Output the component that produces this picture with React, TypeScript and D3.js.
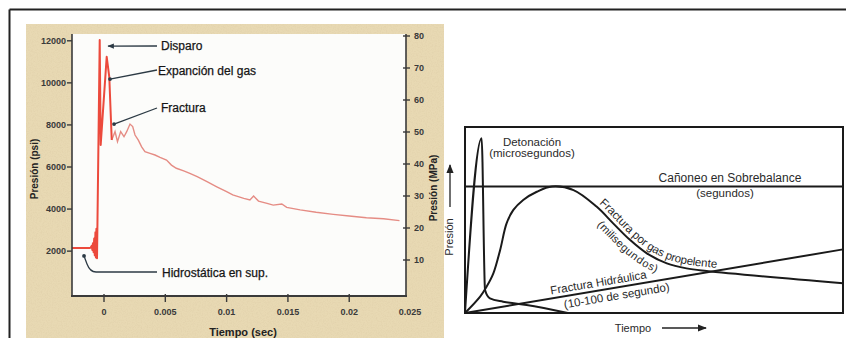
import React from "react";
import * as d3 from "d3";

const W = 846;
const H = 338;

// Panel izquierdo: registro de presión vs tiempo
const tiempoPico = [-0.00261, -0.0012, -0.0011, -0.001, -0.00095, -0.0009, -0.00085, -0.0008, -0.00075, -0.0007, -0.00066, -0.00062, -0.00057, -0.00035, -0.00027, 0.00022, 0.00043, 0.00063];
const presionPico = [2150, 2150, 2160, 2250, 2060, 2380, 1950, 2600, 1800, 2900, 1700, 3060, 1660, 12040, 7050, 11240, 10290, 7280];

const tiempoCola = [0.00063, 0.0009, 0.0011, 0.00136, 0.00163, 0.00185, 0.00212, 0.00234, 0.00253, 0.0028, 0.00307, 0.00334, 0.00375, 0.00416, 0.00457, 0.0051, 0.0055, 0.0059, 0.0065, 0.007, 0.0076, 0.0084, 0.0092, 0.01, 0.0105, 0.0114, 0.0119, 0.0122, 0.0126, 0.0133, 0.0138, 0.0145, 0.0149, 0.016, 0.0173, 0.0187, 0.02, 0.0214, 0.0228, 0.0241];
const presionCola = [7280, 7680, 7200, 7680, 7440, 7680, 8040, 7920, 7520, 7280, 6960, 6730, 6650, 6570, 6460, 6330, 6090, 5940, 5820, 5700, 5540, 5300, 5060, 4830, 4670, 4510, 4430, 4620, 4380, 4270, 4190, 4240, 4080, 3960, 3850, 3750, 3670, 3590, 3540, 3450];

const ticksPsi = [2000, 4000, 6000, 8000, 10000, 12000];
const ticksMPa = [10, 20, 30, 40, 50, 60, 70, 80];
const ticksTiempo = [0, 0.005, 0.01, 0.015, 0.02, 0.025];
const etiquetasTiempo = ["0", "0.005", "0.01", "0.015", "0.02", "0.025"];

// anotaciones: punto señalado (tiempo, psi)
const notasTexto = ["Disparo", "Expanción del gas", "Fractura", "Hidrostática en sup."];
const notasTiempo = [0.00033, 0.00049, 0.00082, -0.00163];
const notasPsi = [11750, 10180, 8040, 1770];

// Panel derecho: esquema en unidades relativas (0-100)
const detonacionX = [0, 4.4, 5.3, 6.6, 10.1, 16.3, 27.2];
const detonacionY = [0, 93.9, 12.4, 7.9, 6.1, 4.3, 0];
const gasX = [0, 4, 5.7, 7.5, 9.3, 11, 12.8, 15.4, 19, 23, 28.7, 34.8, 39.2, 43.7, 48.1, 53.4, 58.6, 63.9, 100];
const gasY = [0, 8.8, 14.1, 21.3, 33.9, 48.2, 55.4, 60.8, 65.2, 68, 66.1, 57.2, 48.2, 39.2, 32.1, 26.7, 24, 22.6, 16];
const hidraulicaX = [0, 100];
const hidraulicaY = [0, 34.2];
const sobrebalanceY = 68;

const zip = (a: number[], b: number[]): [number, number][] => a.map((v, i) => [v, b[i]]);

const FONT = "'Liberation Sans', Arial, sans-serif";

export default function App() {
  const x = d3.scaleLinear().domain([-0.00261, 0.02463]).range([72, 406]);
  const y = d3.scaleLinear().domain([-133, 12323]).range([296, 34]);
  const yM = d3.scaleLinear().domain([-1.25, 80.625]).range([296, 34]);

  const linea = d3
    .line<[number, number]>()
    .x((d) => x(d[0]))
    .y((d) => y(d[1]));

  const xe = d3.scaleLinear().domain([0, 100]).range([465, 843]);
  const ye = d3.scaleLinear().domain([0, 100]).range([313, 127]);
  const esq = d3
    .line<[number, number]>()
    .x((d) => xe(d[0]))
    .y((d) => ye(d[1]));
  const esqRecta = d3.line<[number, number]>().x((d) => xe(d[0])).y((d) => ye(d[1]));
  const esqCurva = d3
    .line<[number, number]>()
    .x((d) => xe(d[0]))
    .y((d) => ye(d[1]))
    .curve(d3.curveCatmullRom.alpha(0.5));
  const esqDet = esq.curve(d3.curveMonotoneX);

  const gas = zip(gasX, gasY);
  const gasDesde = gas.slice(gasY.indexOf(68));
  const hid = zip(hidraulicaX, hidraulicaY);

  const notaCol = "#2c3a44";
  const axisCol = "#3a3a3a";

  const notaLbl = [
    { tx: 161, ty: 50, lx: 157, ly: 46 },
    { tx: 158, ty: 75, lx: 157, ly: 70 },
    { tx: 161, ty: 112, lx: 157, ly: 108 },
    { tx: 162, ty: 277, lx: 157, ly: 272 },
  ];

  return (
    <div style={{ position: "absolute", left: 0, top: 0 }}>
      <svg width={W} height={H} style={{ display: "block", background: "#fff" }}>
        <defs>
          <filter id="papel" x="0" y="0" width="100%" height="100%">
            <feTurbulence type="fractalNoise" baseFrequency="0.8" numOctaves="2" seed="4" />
            <feColorMatrix
              type="matrix"
              values="0 0 0 0 0.72  0 0 0 0 0.6  0 0 0 0 0.38  1.4 0 0 0 -0.55"
            />
          </filter>
          <marker id="flecha" viewBox="0 0 10 10" refX="9" refY="5" markerWidth="7" markerHeight="7" orient="auto">
            <path d="M0,1 L10,5 L0,9 Z" fill="#222" />
          </marker>
          <marker id="flechaN" viewBox="0 0 10 10" refX="9" refY="5" markerWidth="5" markerHeight="5" orient="auto">
            <path d="M0,1 L10,5 L0,9 Z" fill={notaCol} />
          </marker>
          <path id="gasTexto" d={esqCurva(gasDesde) || ""} />
          <path id="hidTexto" d={esqRecta(hid) || ""} />
        </defs>

        {/* marco exterior */}
        <line x1={9.5} y1={9.5} x2={W} y2={9.5} stroke="#222" strokeWidth={2} />
        <line x1={9.5} y1={9.5} x2={9.5} y2={H} stroke="#222" strokeWidth={2} />

        {/* panel izquierdo */}
        <rect x={26} y={24} width={418} height={H - 24} fill="#e8d9b3" />
        <rect x={26} y={24} width={418} height={H - 24} filter="url(#papel)" opacity={0.7} />
        <rect x={72} y={34} width={334} height={262} fill="#fcfcfa" />

        <path d={linea(zip(tiempoCola, presionCola)) || ""} fill="none" stroke="#e58c84" strokeWidth={1.4} />
        <path d={linea(zip(tiempoPico, presionPico)) || ""} fill="none" stroke="#ec4a3c" strokeWidth={2} strokeLinejoin="round" />

        {/* ejes */}
        <line x1={72} y1={34} x2={72} y2={296} stroke={axisCol} strokeWidth={1.6} />
        <line x1={406} y1={34} x2={406} y2={296} stroke={axisCol} strokeWidth={1.6} />
        <line x1={71} y1={296} x2={407} y2={296} stroke={axisCol} strokeWidth={1.8} />

        {ticksPsi.map((v) => (
          <g key={v}>
            <line x1={67} x2={72} y1={y(v)} y2={y(v)} stroke={axisCol} strokeWidth={1.4} />
            <text x={66} y={y(v) + 3} textAnchor="end" fontFamily={FONT} fontSize={9} fontWeight="bold" fill="#3a3a3a">
              {v}
            </text>
          </g>
        ))}
        {ticksMPa.map((v) => (
          <g key={v}>
            <line x1={403} x2={410} y1={yM(v)} y2={yM(v)} stroke={axisCol} strokeWidth={1.4} />
            <text x={414} y={yM(v) + 3} fontFamily={FONT} fontSize={9} fontWeight="bold" fill="#3a3a3a">
              {v}
            </text>
          </g>
        ))}
        {ticksTiempo.map((v, i) => (
          <g key={v}>
            {x(v) <= 406 && <line x1={x(v)} x2={x(v)} y1={294} y2={302} stroke={axisCol} strokeWidth={1.4} />}
            <text x={Math.min(x(v), 410)} y={315} textAnchor="middle" fontFamily={FONT} fontSize={9} fontWeight="bold" fill="#3a3a3a">
              {etiquetasTiempo[i]}
            </text>
          </g>
        ))}

        <text x={243} y={336} textAnchor="middle" fontFamily={FONT} fontSize={11} fontWeight="bold" fill="#222">
          Tiempo (sec)
        </text>
        <text transform="translate(38,169) rotate(-90)" textAnchor="middle" fontFamily={FONT} fontSize={10} fontWeight="bold" fill="#222">
          Presión (psi)
        </text>
        <text transform="translate(437,188) rotate(-90)" textAnchor="middle" fontFamily={FONT} fontSize={10} fontWeight="bold" fill="#222">
          Presión (MPa)
        </text>

        {/* anotaciones */}
        {notasTexto.map((t, i) => {
          const px = x(notasTiempo[i]);
          const py = y(notasPsi[i]);
          const l = notaLbl[i];
          const d =
            i === 3
              ? `M${l.lx},${l.ly} L${px + 12},${l.ly} Q${px + 6},${l.ly} ${px + 3},${l.ly - 8} L${px},${py}`
              : `M${l.lx},${l.ly} L${px},${py}`;
          return (
            <g key={t}>
              <path d={d} fill="none" stroke={notaCol} strokeWidth={1.3} markerEnd={i === 0 ? "url(#flechaN)" : undefined} />
              {i !== 0 && <circle cx={px} cy={py} r={1.9} fill={notaCol} />}
              <text x={l.tx} y={l.ty} fontFamily={FONT} fontSize={12} fill="#151515" stroke="#151515" strokeWidth={0.25}>
                {t}
              </text>
            </g>
          );
        })}

        {/* panel derecho: esquema */}
        <rect x={xe(0)} y={ye(100)} width={xe(100) - xe(0)} height={ye(0) - ye(100)} fill="#fff" stroke="#1a1a1a" strokeWidth={2} />
        <line x1={xe(0)} x2={xe(100)} y1={ye(sobrebalanceY)} y2={ye(sobrebalanceY)} stroke="#1a1a1a" strokeWidth={2} />
        <path d={esqRecta(hid) || ""} fill="none" stroke="#1a1a1a" strokeWidth={2} />
        <path d={esqCurva(gas) || ""} fill="none" stroke="#1a1a1a" strokeWidth={2} />
        <path d={esqDet(zip(detonacionX, detonacionY)) || ""} fill="none" stroke="#1a1a1a" strokeWidth={2} strokeLinejoin="round" />

        <g fontFamily={FONT} fill="#2a2a2a" fontSize={11.5}>
          <text x={532} y={146} textAnchor="middle">Detonación</text>
          <text x={532} y={157} textAnchor="middle">(microsegundos)</text>
          <text x={730} y={182} textAnchor="middle" fontSize={12}>Cañoneo en Sobrebalance</text>
          <text x={725} y={197} textAnchor="middle">(segundos)</text>
          <text dy={-4} fontSize={11.5}>
            <textPath href="#gasTexto" startOffset={50}>Fractura por gas propelente</textPath>
          </text>
          <text dy={13} fontSize={11}>
            <textPath href="#gasTexto" startOffset={64}>(milisegundos)</textPath>
          </text>
          <text dy={-4} fontSize={11.5}>
            <textPath href="#hidTexto" startOffset={88}>Fractura Hidráulica</textPath>
          </text>
          <text dy={12} fontSize={11.5}>
            <textPath href="#hidTexto" startOffset={99}>(10-100 de segundo)</textPath>
          </text>
          <text transform="translate(453,237) rotate(-90)" textAnchor="middle" fontSize={11}>
            Presión
          </text>
          <text x={633} y={332} textAnchor="middle" fontSize={11}>
            Tiempo
          </text>
        </g>
        <line x1={450} y1={207} x2={450} y2={165} stroke="#222" strokeWidth={1.3} markerEnd="url(#flecha)" />
        <line x1={662} y1={328} x2={706} y2={328} stroke="#222" strokeWidth={1.3} markerEnd="url(#flecha)" />
      </svg>
    </div>
  );
}
